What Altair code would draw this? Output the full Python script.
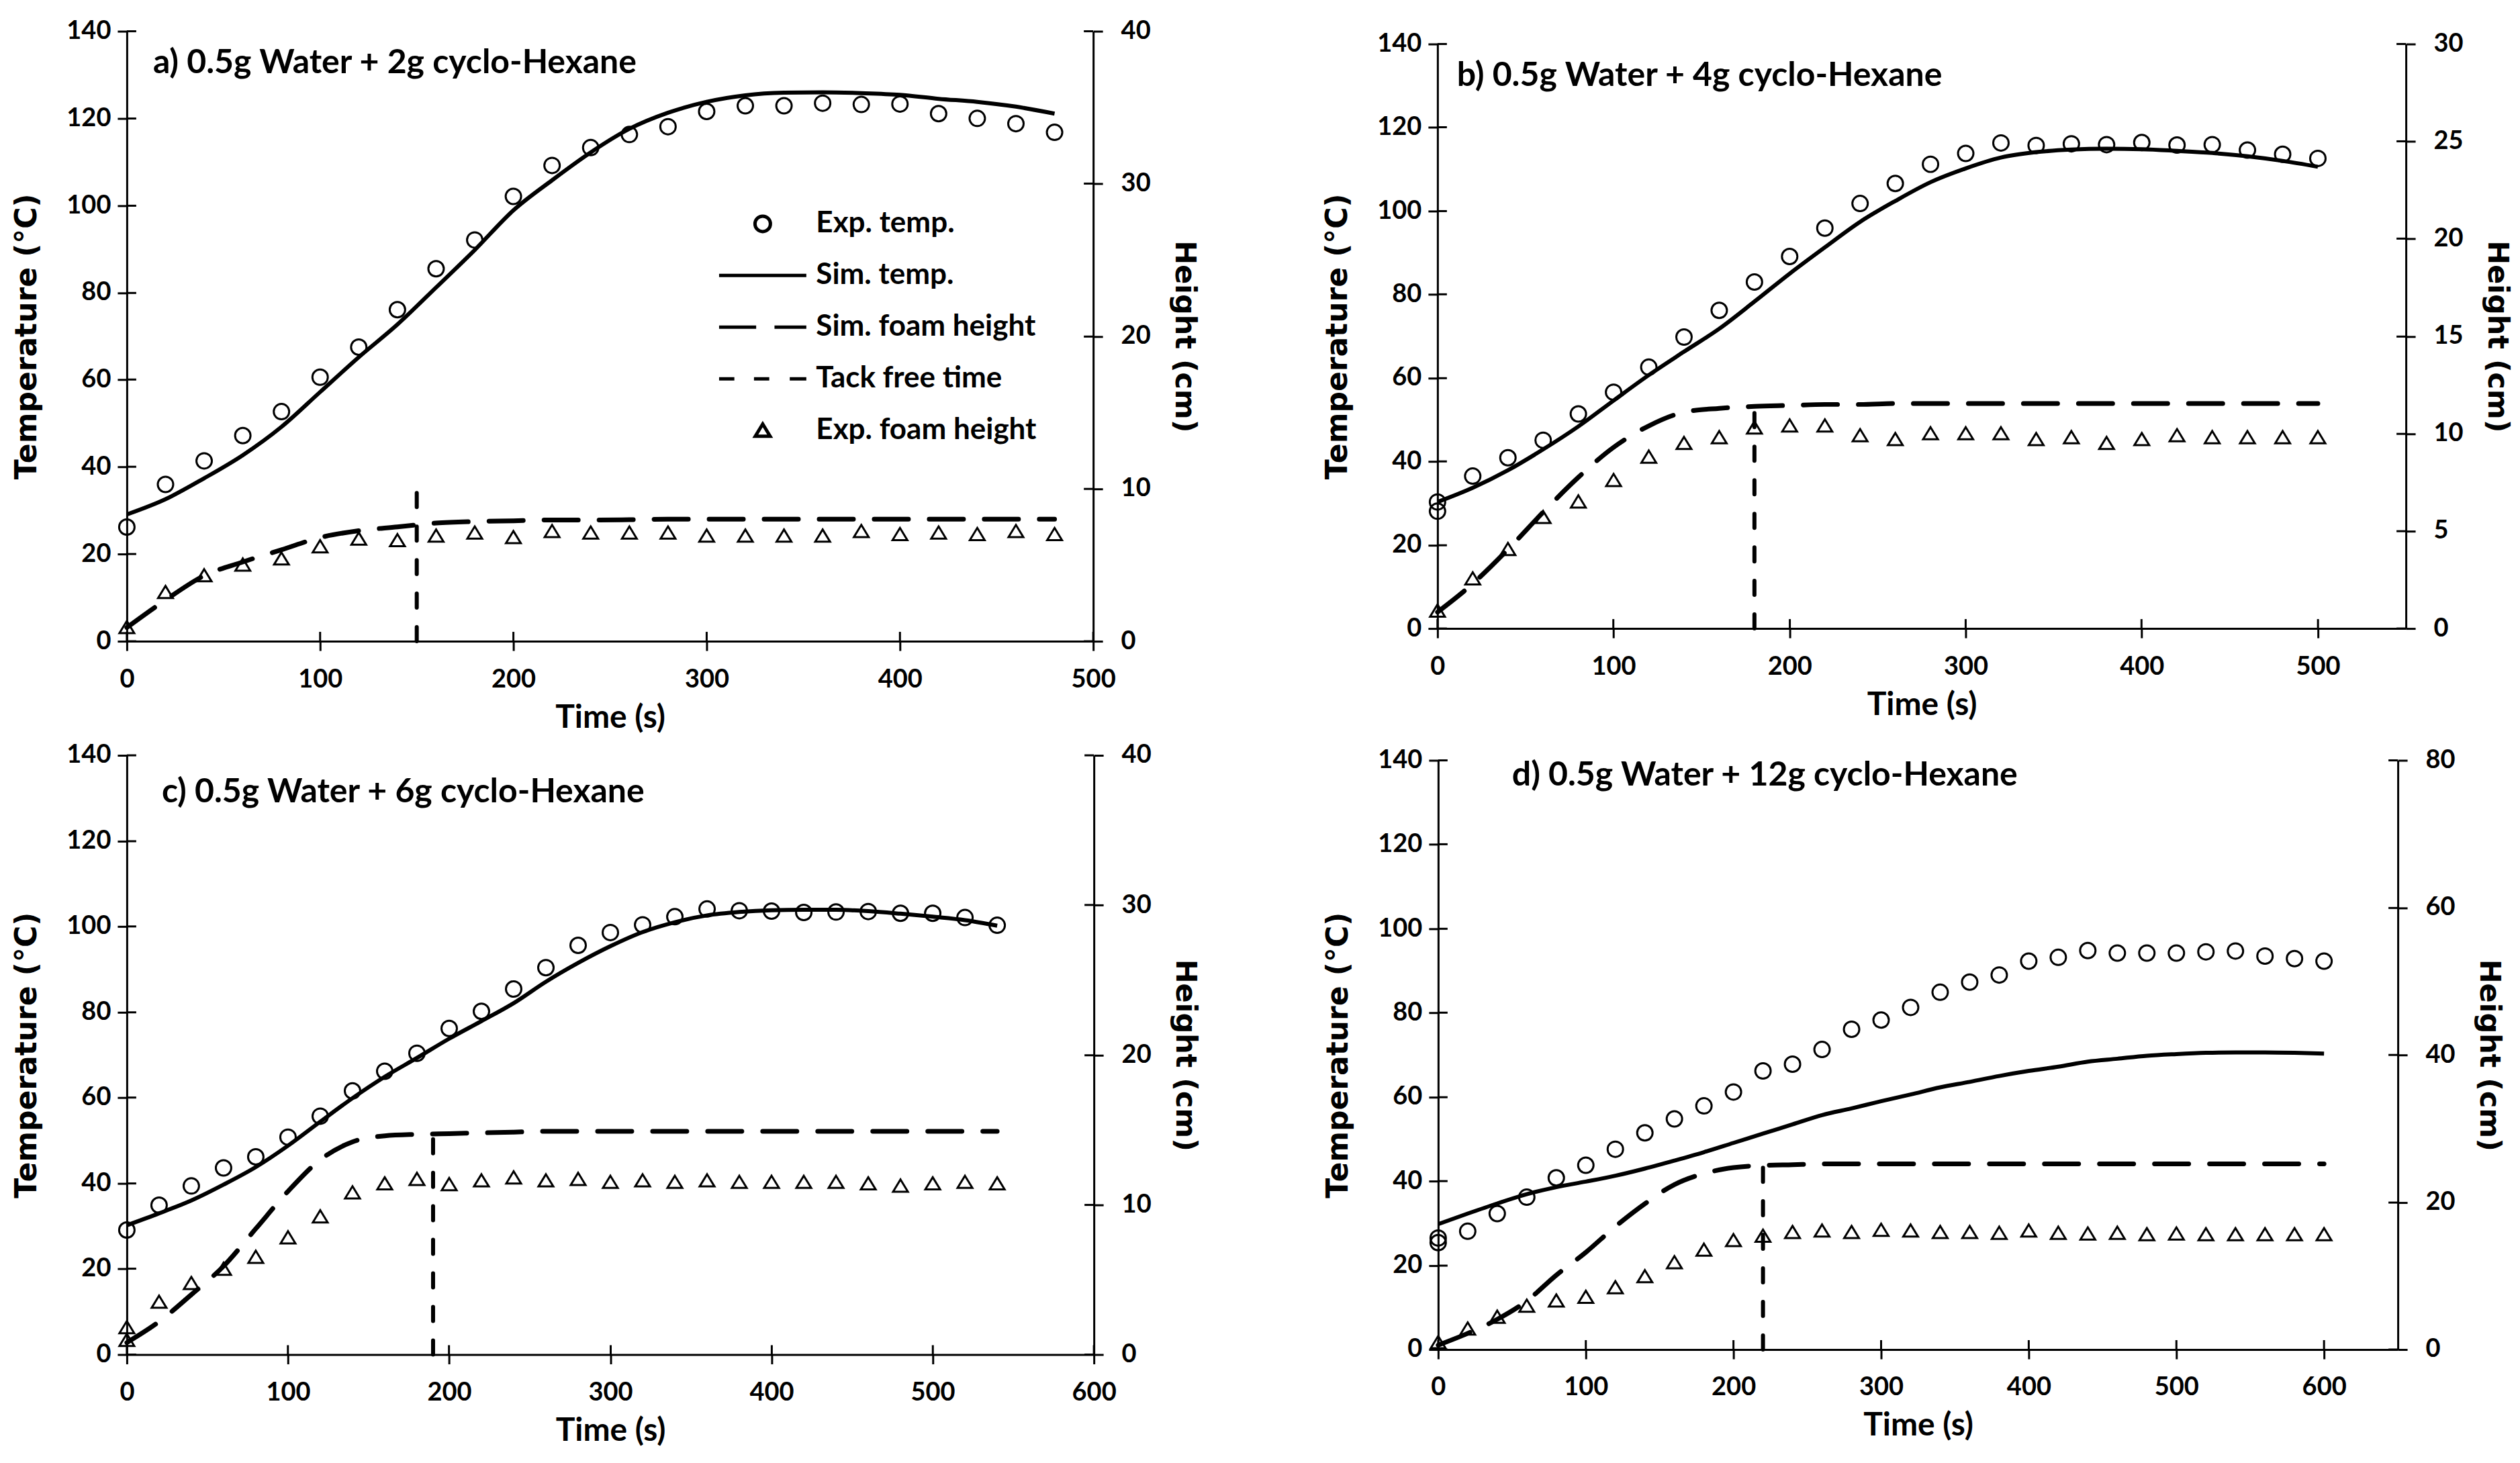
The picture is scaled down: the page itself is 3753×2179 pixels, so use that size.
import altair as alt
import pandas as pd

FONT = "Lato"
TFONT = "DejaVu Sans"

LEGEND_NAMES = ["Exp. temp.", "Sim. temp.", "Sim. foam height", "Tack free time", "Exp. foam height"]
LEGEND_PATHS = [
    "M-0.177,0A0.177,0.177,0,1,0,0.177,0A0.177,0.177,0,1,0,-0.177,0Z",
    "M-1,0H1",
    "M-1,0H-0.15M0.27,0H1",
    "M-1,0H-0.65M-0.2,0H0.15M0.62,0H1",
    "M0,-0.15L0.17,0.13L-0.17,0.13Z",
]

# ---------------- panel a ----------------
a_time = [0, 20, 40, 60, 80, 100, 120, 140, 160, 180, 200, 220, 240, 260, 280, 300, 320, 340, 360, 380, 400, 420, 440, 460, 480]
a_exp_temp = [26.2, 36.0, 41.4, 47.2, 52.7, 60.6, 67.5, 76.1, 85.5, 92.1, 102.1, 109.2, 113.3, 116.3, 118.1, 121.6, 122.9, 122.9, 123.5, 123.2, 123.3, 121.1, 120.0, 118.8, 116.8]
a_sim_temp = [29.1, 32.6, 37.4, 42.7, 49.2, 57.2, 65.2, 72.7, 81.2, 89.8, 98.9, 105.8, 112.2, 117.6, 121.3, 123.8, 125.3, 125.9, 126.0, 125.8, 125.4, 124.5, 123.8, 122.7, 121.1]
a_exp_h = [0.9, 3.2, 4.3, 5.0, 5.4, 6.2, 6.7, 6.6, 6.9, 7.1, 6.8, 7.2, 7.1, 7.1, 7.1, 6.9, 6.9, 6.9, 6.9, 7.2, 7.0, 7.1, 7.0, 7.2, 7.0]
a_sim_h = [0.9, 2.7, 4.3, 5.2, 6.0, 6.8, 7.25, 7.5, 7.75, 7.85, 7.9, 7.95, 7.95, 7.97, 8.0, 8.0, 8.0, 8.0, 8.0, 8.0, 8.0, 8.0, 8.0, 8.0, 8.0]
a_tack = 150
a_tack_top = 10.1

# ---------------- panel b ----------------
b_time_exp = [0, 0, 20, 40, 60, 80, 100, 120, 140, 160, 180, 200, 220, 240, 260, 280, 300, 320, 340, 360, 380, 400, 420, 440, 460, 480, 500]
b_exp_temp = [30.3, 28.1, 36.5, 40.9, 45.1, 51.4, 56.6, 62.6, 69.8, 76.2, 83.0, 89.1, 95.9, 101.8, 106.6, 111.2, 113.8, 116.3, 115.7, 116.1, 115.9, 116.4, 115.8, 115.9, 114.6, 113.6, 112.6]
b_time = [0, 20, 40, 60, 80, 100, 120, 140, 160, 180, 200, 220, 240, 260, 280, 300, 320, 340, 360, 380, 400, 420, 440, 460, 480, 500]
b_sim_temp = [30.3, 33.7, 37.9, 42.9, 48.4, 54.6, 60.7, 66.3, 71.8, 78.3, 85.0, 91.3, 97.4, 102.4, 106.9, 110.2, 112.8, 114.1, 114.7, 114.9, 114.8, 114.4, 113.9, 113.1, 112.0, 110.6]
b_exp_h = [0.9, 2.55, 4.06, 5.7, 6.5, 7.6, 8.8, 9.5, 9.8, 10.3, 10.4, 10.4, 9.9, 9.7, 10.0, 10.0, 10.0, 9.7, 9.8, 9.5, 9.7, 9.9, 9.8, 9.8, 9.8, 9.8]
b_sim_h = [0.84, 2.3, 4.06, 5.97, 7.76, 9.3, 10.4, 11.1, 11.3, 11.4, 11.45, 11.5, 11.5, 11.55, 11.55, 11.55, 11.55, 11.55, 11.55, 11.55, 11.55, 11.55, 11.55, 11.55, 11.55, 11.55]
b_tack = 180
b_tack_top = 11.8

# ---------------- panel c ----------------
c_time = [0, 20, 40, 60, 80, 100, 120, 140, 160, 180, 200, 220, 240, 260, 280, 300, 320, 340, 360, 380, 400, 420, 440, 460, 480, 500, 520, 540]
c_exp_temp = [29.1, 34.9, 39.4, 43.6, 46.2, 50.8, 55.7, 61.6, 66.2, 70.4, 76.2, 80.2, 85.4, 90.4, 95.6, 98.6, 100.4, 102.3, 104.1, 103.7, 103.6, 103.3, 103.4, 103.5, 103.1, 103.1, 102.1, 100.3]
c_sim_temp = [30.2, 33.0, 36.0, 39.7, 43.8, 48.8, 54.4, 59.9, 64.9, 69.3, 73.8, 77.9, 82.1, 87.1, 91.5, 95.4, 98.7, 101.0, 102.6, 103.4, 103.8, 103.9, 103.9, 103.6, 103.0, 102.3, 101.5, 100.2]
c_time_h = [0, 0, 20, 40, 60, 80, 100, 120, 140, 160, 180, 200, 220, 240, 260, 280, 300, 320, 340, 360, 380, 400, 420, 440, 460, 480, 500, 520, 540]
c_exp_h = [1.8, 0.95, 3.5, 4.75, 5.7, 6.5, 7.8, 9.2, 10.8, 11.4, 11.7, 11.35, 11.6, 11.8, 11.6, 11.7, 11.5, 11.6, 11.5, 11.6, 11.5, 11.5, 11.5, 11.5, 11.4, 11.25, 11.4, 11.5, 11.4]
c_sim_h = [0.8, 2.2, 4.0, 5.9, 8.4, 10.9, 13.0, 14.2, 14.6, 14.7, 14.75, 14.8, 14.85, 14.9, 14.9, 14.9, 14.9, 14.9, 14.9, 14.9, 14.9, 14.9, 14.9, 14.9, 14.9, 14.9, 14.9, 14.9]
c_tack = 190
c_tack_top = 15.5

# ---------------- panel d ----------------
d_time_exp = [0, 0, 20, 40, 60, 80, 100, 120, 140, 160, 180, 200, 220, 240, 260, 280, 300, 320, 340, 360, 380, 400, 420, 440, 460, 480, 500, 520, 540, 560, 580, 600]
d_exp_temp = [26.5, 25.4, 28.1, 32.3, 36.2, 40.8, 43.8, 47.6, 51.5, 54.8, 57.9, 61.2, 66.2, 67.8, 71.3, 76.1, 78.3, 81.3, 84.9, 87.3, 89.0, 92.3, 93.2, 94.8, 94.2, 94.2, 94.2, 94.5, 94.7, 93.5, 92.9, 92.3]
d_time = [0, 20, 40, 60, 80, 100, 120, 140, 160, 180, 200, 220, 240, 260, 280, 300, 320, 340, 360, 380, 400, 420, 440, 460, 480, 500, 520, 540, 560, 580, 600]
d_sim_temp = [29.8, 32.3, 34.7, 36.9, 38.6, 39.9, 41.3, 43.0, 44.9, 46.9, 49.1, 51.3, 53.5, 55.7, 57.3, 59.0, 60.6, 62.3, 63.6, 65.0, 66.2, 67.2, 68.4, 69.1, 69.8, 70.2, 70.5, 70.6, 70.6, 70.5, 70.3]
d_exp_h = [0.95, 2.8, 4.4, 5.9, 6.6, 7.1, 8.4, 9.9, 11.8, 13.5, 14.8, 15.4, 15.9, 16.1, 15.9, 16.2, 16.1, 15.9, 15.9, 15.8, 16.1, 15.8, 15.7, 15.8, 15.6, 15.7, 15.6, 15.6, 15.6, 15.6, 15.6]
d_sim_h = [0.6, 2.2, 4.1, 6.6, 10.1, 13.2, 16.7, 19.8, 22.4, 23.9, 24.7, 25.0, 25.1, 25.2, 25.2, 25.2, 25.2, 25.2, 25.2, 25.2, 25.2, 25.2, 25.2, 25.2, 25.2, 25.2, 25.2, 25.2, 25.2, 25.2, 25.2]
d_tack = 220
d_tack_top = 26.1

TEMP_TICKS = [0, 20, 40, 60, 80, 100, 120, 140]

PANELS = [
    dict(title="a) 0.5g Water + 2g cyclo-Hexane", xmax=500, xticks=[0, 100, 200, 300, 400, 500],
         hmax=40, hticks=[0, 10, 20, 30, 40], w=1440, h=909, tx=39, ty=62,
         t_exp=a_time, exp_temp=a_exp_temp, t_sim=a_time, sim_temp=a_sim_temp,
         t_h=a_time, exp_h=a_exp_h, t_simh=a_time, sim_h=a_sim_h, tack=a_tack, tack_top=a_tack_top),
    dict(title="b) 0.5g Water + 4g cyclo-Hexane", xmax=550, xticks=[0, 100, 200, 300, 400, 500],
         hmax=30, hticks=[0, 5, 10, 15, 20, 25, 30], w=1443, h=871, tx=29, ty=62,
         t_exp=b_time_exp, exp_temp=b_exp_temp, t_sim=b_time, sim_temp=b_sim_temp,
         t_h=b_time, exp_h=b_exp_h, t_simh=b_time, sim_h=b_sim_h, tack=b_tack, tack_top=b_tack_top),
    dict(title="c) 0.5g Water + 6g cyclo-Hexane", xmax=600, xticks=[0, 100, 200, 300, 400, 500, 600],
         hmax=40, hticks=[0, 10, 20, 30, 40], w=1441, h=893, tx=52, ty=70,
         t_exp=c_time, exp_temp=c_exp_temp, t_sim=c_time, sim_temp=c_sim_temp,
         t_h=c_time_h, exp_h=c_exp_h, t_simh=c_time, sim_h=c_sim_h, tack=c_tack, tack_top=c_tack_top),
    dict(title="d) 0.5g Water + 12g cyclo-Hexane", xmax=650, xticks=[0, 100, 200, 300, 400, 500, 600],
         hmax=80, hticks=[0, 20, 40, 60, 80], w=1430, h=878, tx=110, ty=38,
         t_exp=d_time_exp, exp_temp=d_exp_temp, t_sim=d_time, sim_temp=d_sim_temp,
         t_h=d_time, exp_h=d_exp_h, t_simh=d_time, sim_h=d_sim_h, tack=d_tack, tack_top=d_tack_top),
]

TICK = 14
LW = 3


def main_axis(orient, values, title, label_pad, title_pad, title_font, title_size):
    return alt.Axis(orient=orient, values=values, title=title, grid=False, format="d",
                    domainColor="black", domainWidth=LW, tickColor="black", tickWidth=LW,
                    tickSize=TICK, labelPadding=label_pad, labelFont=FONT, labelFontWeight="bold",
                    labelFontSize=38, labelColor="black", labelFlush=False, labelOverlap=False,
                    titleFont=title_font, titleFontWeight="bold", titleFontSize=title_size,
                    titleColor="black", titlePadding=title_pad)


# inner half of the crossing ticks: a second, tick-only axis moved into the plot
INNER_SHIFT = {"left": (TICK, -TICK), "right": (-TICK, TICK), "bottom": (-TICK, TICK)}


def inner_axis(orient, values):
    tr, pos = INNER_SHIFT[orient]
    return alt.Axis(orient=orient, values=values, title=None, grid=False, domain=False,
                    labels=False, tickColor="black", tickWidth=LW, tickSize=TICK,
                    translate=tr, position=pos)


def panel(p, show_legend):
    xs = alt.Scale(domain=[0, p["xmax"]], nice=False, zero=False)
    ts = alt.Scale(domain=[0, 140], nice=False, zero=False)
    hs = alt.Scale(domain=[0, p["hmax"]], nice=False, zero=False)
    shape_scale = alt.Scale(domain=LEGEND_NAMES, range=LEGEND_PATHS)
    if show_legend:
        leg = alt.Legend(orient="none", legendX=880, legendY=257, title=None, padding=0,
                         labelFont=FONT, labelFontWeight="bold", labelFontSize=44, labelColor="black",
                         labelLimit=1000,
                         symbolSize=16900, symbolStrokeWidth=5, symbolStrokeColor="black",
                         symbolOpacity=1, clipHeight=60, rowPadding=17, labelOffset=12)
    else:
        leg = None

    df_et = pd.DataFrame({"t": p["t_exp"], "v": p["exp_temp"], "s": LEGEND_NAMES[0]})
    df_st = pd.DataFrame({"t": p["t_sim"], "v": p["sim_temp"]})
    df_sh = pd.DataFrame({"t": p["t_simh"], "v": p["sim_h"]})
    df_eh = pd.DataFrame({"t": p["t_h"], "v": p["exp_h"], "s": LEGEND_NAMES[4]})
    df_tk = pd.DataFrame({"t": [p["tack"]], "y0": [0], "y1": [p["tack_top"]]})
    df_tt = pd.DataFrame({"label": [p["title"]]})

    exp_temp = alt.Chart(df_et).mark_point(filled=False, color="black", strokeWidth=3,
                                           size=16900, opacity=1).encode(
        x=alt.X("t:Q", scale=xs, axis=main_axis("bottom", p["xticks"], "Time (s)", 24, 14, FONT, 48)),
        y=alt.Y("v:Q", scale=ts, axis=main_axis("left", TEMP_TICKS, "Temperature (°C)", 10, 36, TFONT, 44)),
        shape=alt.Shape("s:N", scale=shape_scale, legend=leg),
    )
    sim_temp = alt.Chart(df_st).mark_line(color="black", strokeWidth=6, interpolate="monotone").encode(
        x=alt.X("t:Q", scale=xs, axis=inner_axis("bottom", p["xticks"])),
        y=alt.Y("v:Q", scale=ts, axis=inner_axis("left", TEMP_TICKS)),
    )
    sim_h = alt.Chart(df_sh).mark_line(color="black", strokeWidth=7, strokeDash=[51, 31],
                                       strokeCap="round", interpolate="monotone").encode(
        x=alt.X("t:Q", scale=xs, axis=None),
        y=alt.Y("v:Q", scale=hs, axis=main_axis("right", p["hticks"], "Height (cm)", 27, 28, TFONT, 43)),
    )
    exp_h = alt.Chart(df_eh).mark_point(filled=False, color="black", strokeWidth=3,
                                        size=16900, opacity=1).encode(
        x=alt.X("t:Q", scale=xs, axis=None),
        y=alt.Y("v:Q", scale=hs, axis=inner_axis("right", p["hticks"])),
        shape=alt.Shape("s:N", scale=shape_scale, legend=leg),
    )
    tack = alt.Chart(df_tk).mark_rule(color="black", strokeWidth=6, strokeDash=[21, 29],
                                      strokeCap="round").encode(
        x=alt.X("t:Q", scale=xs, axis=None),
        y=alt.Y("y0:Q", scale=hs, axis=None),
        y2="y1:Q",
    )
    title = alt.Chart(df_tt).mark_text(font=FONT, fontWeight="bold", fontSize=50, color="black",
                                       align="left", baseline="alphabetic").encode(
        text="label:N", x=alt.value(p["tx"]), y=alt.value(p["ty"]),
    )
    return alt.layer(exp_temp, sim_temp, sim_h, exp_h, tack, title).resolve_scale(
        x="independent", y="independent").resolve_axis(x="independent", y="independent").properties(
        width=p["w"], height=p["h"])


pa = panel(PANELS[0], True)
pb = panel(PANELS[1], False)
pc = panel(PANELS[2], False)
pd_ = panel(PANELS[3], False)

row1 = alt.hconcat(pa, pb, spacing=185, center=True).resolve_scale(shape="independent").resolve_legend(shape="independent")
row2 = alt.hconcat(pc, pd_, spacing=185, center=True).resolve_scale(shape="independent").resolve_legend(shape="independent")

chart = alt.vconcat(row1, row2, spacing=13).resolve_scale(shape="independent").resolve_legend(
    shape="independent").properties(
    padding={"left": 10, "top": 19, "right": 5, "bottom": 5}, background="white"
).configure_view(stroke=None)

chart.save("out.html", embed_options={"renderer": "svg", "actions": False})
